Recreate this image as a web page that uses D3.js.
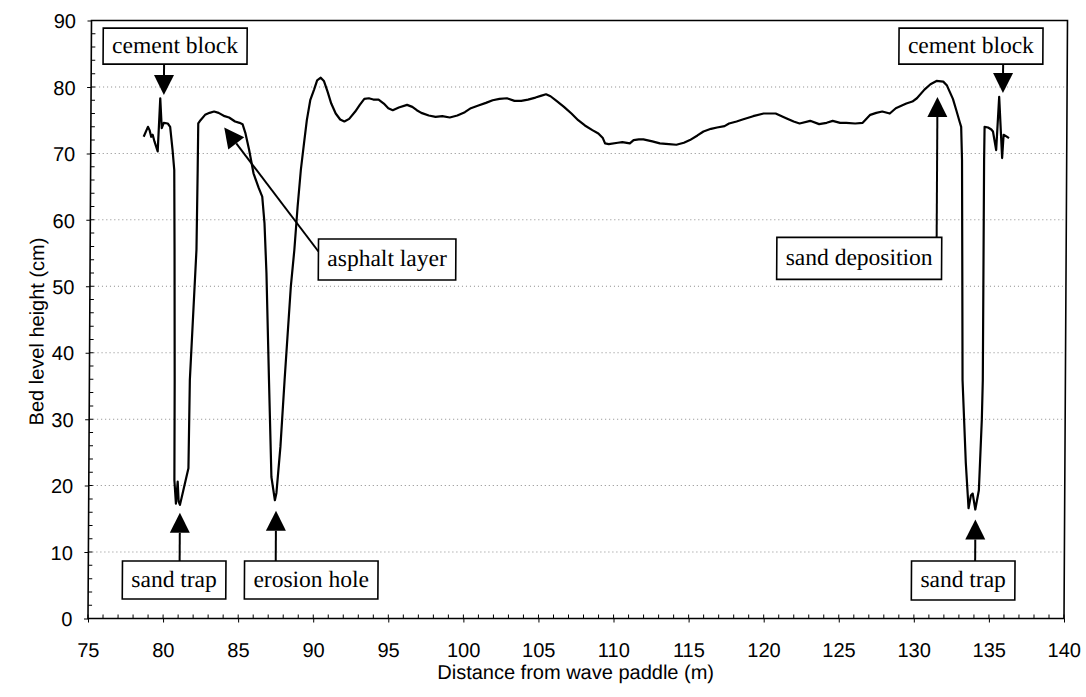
<!DOCTYPE html>
<html>
<head>
<meta charset="utf-8">
<script src="https://cdn.jsdelivr.net/npm/d3@7"></script>
<style>
  html, body { margin: 0; padding: 0; background: #fff; }
  svg { display: block; }
</style>
</head>
<body>
<svg id="chart" width="1086" height="697"></svg>
<script>
// Bed profile along the flume: distance (m) and bed level (cm)
const distance = [
  78.52, 78.8, 78.91, 79.02, 79.12, 79.24, 79.46, 79.61, 79.72, 79.85,
  80.12, 80.28, 80.45, 80.57, 80.62, 80.68, 80.7, 80.81, 80.92, 80.99,
  81.08, 81.3, 81.63, 81.69, 82.08, 82.13, 82.15, 82.3, 82.6, 82.9,
  83.2, 83.5, 83.9, 84.2, 84.6, 84.9, 85.1, 85.3, 85.55, 85.85,
  86.2, 86.44, 86.6, 86.75, 86.96, 87.16, 87.4, 87.5, 87.75, 88.0,
  88.38, 88.6, 88.8, 89.0, 89.2, 89.38, 89.6, 89.85, 90.05, 90.29,
  90.5, 90.75, 91.0, 91.3, 91.6, 91.88, 92.2, 92.6, 92.9, 93.2,
  93.5, 93.8, 94.15, 94.5, 94.8, 95.1, 95.5, 96.05, 96.4, 96.7,
  97.0, 97.5, 97.95, 98.4, 98.9, 99.4, 99.9, 100.3, 100.8, 101.3,
  101.75, 102.2, 102.7, 103.2, 103.65, 104.1, 104.6, 105.0, 105.3, 105.6,
  106.0, 106.5, 107.0, 107.45, 107.9, 108.4, 108.8, 109.1, 109.25, 109.5,
  110.1, 110.4, 110.9, 111.15, 111.5, 111.8, 112.4, 112.9, 113.5, 114.0,
  114.5, 114.9, 115.4, 115.8, 116.3, 116.7, 117.2, 117.5, 118.0, 118.4,
  119.1, 119.8, 120.6, 121.3, 121.8, 122.2, 122.9, 123.5, 124.0, 124.4,
  124.9, 125.3, 125.9, 126.4, 126.9, 127.3, 127.7, 128.2, 128.6, 129.0,
  129.3, 129.7, 130.0, 130.5, 130.9, 131.3, 131.75, 132.0, 132.18, 132.4,
  132.63, 132.85, 132.96, 133.03, 133.1, 133.15, 133.4, 133.6, 133.75, 133.87,
  134.05, 134.28, 134.45, 134.5, 134.5, 134.52, 134.75, 134.97, 135.08, 135.3,
  135.48, 135.7, 135.79, 135.95, 136.15
];
const bedLevel = [
  72.5, 74.0, 73.5, 72.5, 72.8, 71.8, 70.3, 78.3, 73.8, 74.6,
  74.5, 74.0, 70.5, 67.5, 55.5, 35.9, 20.8, 17.3, 20.6, 17.6,
  17.1, 19.3, 22.6, 35.9, 55.5, 67.5, 74.5, 75.0, 75.8, 76.1,
  76.3, 76.1, 75.6, 75.4, 74.8, 74.6, 74.4, 73.0, 70.5, 67.0,
  64.8, 63.5, 59.5, 52.0, 35.9, 21.3, 17.8, 18.9, 25.9, 35.9,
  50.0, 55.5, 62.0, 67.5, 71.5, 75.0, 78.0, 79.6, 81.0, 81.4,
  80.9, 79.3, 77.5, 76.0, 75.1, 74.8, 75.2, 76.3, 77.3, 78.2,
  78.3, 78.1, 78.1, 77.5, 76.8, 76.5, 76.9, 77.3, 77.0, 76.5,
  76.1, 75.7, 75.5, 75.6, 75.4, 75.7, 76.2, 76.8, 77.2, 77.6,
  78.0, 78.2, 78.3, 77.9, 77.9, 78.1, 78.4, 78.7, 78.9, 78.6,
  77.9, 77.0, 76.0, 75.0, 74.2, 73.5, 73.0, 72.3, 71.5, 71.4,
  71.6, 71.7, 71.5, 72.0, 72.1, 72.1, 71.8, 71.5, 71.4, 71.3,
  71.6, 72.0, 72.7, 73.3, 73.7, 73.9, 74.1, 74.5, 74.8, 75.1,
  75.6, 76.0, 76.0, 75.3, 74.8, 74.5, 74.9, 74.4, 74.6, 74.9,
  74.6, 74.6, 74.5, 74.6, 75.8, 76.1, 76.3, 76.0, 76.8, 77.2,
  77.5, 77.8, 78.3, 79.6, 80.4, 80.9, 80.8, 80.2, 79.3, 78.2,
  76.5, 74.8, 74.0, 69.0, 50.0, 35.9, 23.4, 16.6, 18.5, 18.8,
  16.4, 19.3, 30.0, 35.9, 69.0, 74.0, 73.9, 73.6, 73.3, 70.5,
  78.5, 69.3, 72.8, 72.6, 72.3
];

const xTickValues = [75, 80, 85, 90, 95, 100, 105, 110, 115, 120, 125, 130, 135, 140];
const yTickValues = [0, 10, 20, 30, 40, 50, 60, 70, 80, 90];
const gridValues = [10, 20, 30, 40, 50, 60, 70, 80];
const xTitle = "Distance from wave paddle (m)";
const yTitle = "Bed level height (cm)";

// Callouts: text and the (distance, level) point each arrow points at
const noteText = ["cement block", "sand trap", "erosion hole", "asphalt layer",
                  "sand deposition", "sand trap", "cement block"];
const noteTarget = [[79.85, 78.8], [81.08, 15.9], [87.48, 16.2], [83.88, 73.9],
                    [131.37, 78.5], [134.06, 14.9], [135.73, 79.1]];

// Callout box centres (data units) and box heights (px)
const noteBoxAt = [[80.58, 86.14], [80.72, 5.79], [89.85, 5.79], [94.78, 54.03],
                   [126.22, 54.2], [133.27, 5.72], [133.58, 86.14]];
const noteBoxH = [36, 38, 38, 41, 42, 39, 36];

const W = 1086, H = 697;
const margin = { left: 88, right: W - 1064, top: 20.5, bottom: H - 618.5 };

const x = d3.scaleLinear().domain([75, 140]).range([margin.left, W - margin.right]);
const y = d3.scaleLinear().domain([0, 90]).range([H - margin.bottom, margin.top]);

const svg = d3.select("#chart");
svg.append("rect").attr("width", W).attr("height", H).attr("fill", "#fff");

// slight lean of the whole figure
const axisY = y(0);
const root = svg.append("g")
  .attr("transform", `translate(0,${axisY}) skewX(-0.335) translate(0,${-axisY})`);

const sans = "'Liberation Sans', Arial, sans-serif";
const serif = "'Liberation Serif', 'Times New Roman', serif";

// horizontal gridlines
root.append("g").selectAll("line").data(gridValues).join("line")
  .attr("x1", x(75)).attr("x2", x(140))
  .attr("y1", d => y(d)).attr("y2", d => y(d))
  .attr("stroke", "#8a8a8a").attr("stroke-width", 1)
  .attr("stroke-dasharray", "1,3");

// minor ticks pointing inward
const xMinor = d3.range(76, 140, 1).filter(v => v % 5 !== 0);
root.append("g").selectAll("line").data(xMinor).join("line")
  .attr("x1", d => x(d)).attr("x2", d => x(d))
  .attr("y1", axisY).attr("y2", axisY - 4)
  .attr("stroke", "#000").attr("stroke-width", 1);
const yMinor = d3.range(2, 90, 2).filter(v => v % 10 !== 0);
root.append("g").selectAll("line").data(yMinor).join("line")
  .attr("x1", x(75)).attr("x2", x(75) + 4)
  .attr("y1", d => y(d)).attr("y2", d => y(d))
  .attr("stroke", "#000").attr("stroke-width", 1);

// major ticks cross the axis: inner half
root.append("g").selectAll("line").data(xTickValues).join("line")
  .attr("x1", d => x(d)).attr("x2", d => x(d))
  .attr("y1", axisY).attr("y2", axisY - 4)
  .attr("stroke", "#000").attr("stroke-width", 1);
root.append("g").selectAll("line").data(yTickValues).join("line")
  .attr("x1", x(75)).attr("x2", x(75) + 4)
  .attr("y1", d => y(d)).attr("y2", d => y(d))
  .attr("stroke", "#000").attr("stroke-width", 1);

// axes
const xAxis = root.append("g")
  .attr("transform", `translate(0,${axisY})`)
  .call(d3.axisBottom(x).tickValues(xTickValues).tickSize(4).tickSizeOuter(0)
        .tickFormat(d3.format("d")));
xAxis.select(".domain").remove();
xAxis.selectAll(".tick line").attr("stroke", "#000");
xAxis.selectAll(".tick text")
  .attr("y", 31.5).attr("dy", "0.36em")
  .attr("font-family", sans).attr("font-size", 20).attr("fill", "#000");

const yAxis = root.append("g")
  .attr("transform", `translate(${x(75)},0)`)
  .call(d3.axisLeft(y).tickValues(yTickValues).tickSize(4).tickSizeOuter(0)
        .tickFormat(d3.format("d")));
yAxis.select(".domain").remove();
yAxis.selectAll(".tick line").attr("stroke", "#000");
yAxis.selectAll(".tick text")
  .attr("x", -15.5).attr("dy", "0.36em")
  .attr("font-family", sans).attr("font-size", 20).attr("fill", "#000");

// plot frame
root.append("rect")
  .attr("x", x(75)).attr("y", y(90))
  .attr("width", x(140) - x(75)).attr("height", y(0) - y(90))
  .attr("fill", "none").attr("stroke", "#000").attr("stroke-width", 1.6);

// axis titles
root.append("text")
  .attr("x", (x(75) + x(140)) / 2).attr("y", 679)
  .attr("text-anchor", "middle")
  .attr("font-family", sans).attr("font-size", 20).attr("fill", "#000")
  .text(xTitle);
root.append("text")
  .attr("transform", `translate(42,${(y(0) + y(90)) / 2 + 12}) rotate(-90)`)
  .attr("text-anchor", "middle")
  .attr("font-family", sans).attr("font-size", 20).attr("fill", "#000")
  .text(yTitle);

// bed profile
const profile = distance.map((d, i) => [d, bedLevel[i]]);
root.append("path")
  .datum(profile)
  .attr("d", d3.line().x(d => x(d[0])).y(d => y(d[1])))
  .attr("fill", "none").attr("stroke", "#000")
  .attr("stroke-width", 2.2).attr("stroke-linejoin", "round");

// callouts
const notes = root.append("g");
noteText.forEach((label, i) => {
  const [tx, ty] = noteTarget[i].map((v, k) => k === 0 ? x(v) : y(v));
  const cx = x(noteBoxAt[i][0]), cy = y(noteBoxAt[i][1]);
  const h = noteBoxH[i];

  const g = notes.append("g");
  const box = g.append("rect");
  const txt = g.append("text")
    .attr("x", cx).attr("y", cy + 6.5)
    .attr("text-anchor", "middle")
    .attr("font-family", serif).attr("font-size", 23.5).attr("fill", "#000")
    .text(label);
  const w = txt.node().getComputedTextLength() + 18;
  box.attr("x", cx - w / 2).attr("y", cy - h / 2)
    .attr("width", w).attr("height", h)
    .attr("fill", "#fff").attr("stroke", "#000").attr("stroke-width", 1.6);

  // tail point on the box edge
  let sx, sy;
  if (Math.abs(tx - cx) > w / 2) {
    sx = cx - w / 2; sy = cy - 8;
  } else {
    sx = tx; sy = ty < cy ? cy - h / 2 : cy + h / 2;
  }
  const ang = Math.atan2(ty - sy, tx - sx);
  const len = 20, half = 10;
  const bx = tx - len * Math.cos(ang), by = ty - len * Math.sin(ang);
  g.append("line")
    .attr("x1", sx).attr("y1", sy).attr("x2", bx).attr("y2", by)
    .attr("stroke", "#000").attr("stroke-width", 2);
  const px = -Math.sin(ang), py = Math.cos(ang);
  g.append("path")
    .attr("d", `M${tx},${ty}L${bx + half * px},${by + half * py}L${bx - half * px},${by - half * py}Z`)
    .attr("fill", "#000");
});
</script>
</body>
</html>
